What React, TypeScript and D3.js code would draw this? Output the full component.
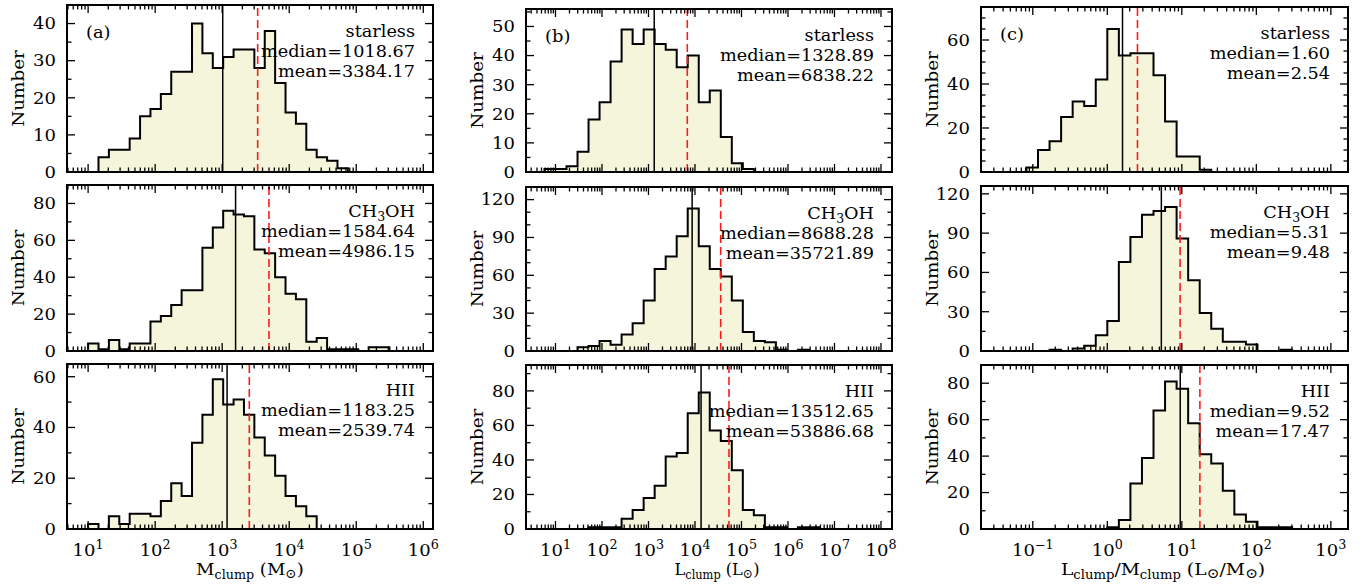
import React from 'react';
import * as d3 from 'd3';

const W = 1367;
const H = 588;

// ---------- layout ----------
const colLeft = [67, 526, 981];
const colRight = [433, 892, 1348];
const colLogDomain: [number, number][] = [[0.685, 6.145], [0.366, 8.237], [-1.695, 3.23]];
const rowTop = [[5, 9, 7], [185, 187, 186], [364, 365, 365]];
const rowBottom = [172, 351, 529];

// ---------- labels ----------
const groupNames = ['starless', 'CH3OH', 'HII'];
const panelLetters = ['(a)', '(b)', '(c)'];
const majorExps = [[1, 2, 3, 4, 5, 6], [1, 2, 3, 4, 5, 6, 7, 8], [-1, 0, 1, 2, 3]];

// ---------- y axes ----------
const yMax = [[45, 56, 75], [90, 130, 126], [65, 95, 90]];
const yMajor = [[10, 10, 20], [20, 30, 30], [20, 20, 20]];
const yMinor = [[5, 5, 5], [10, 10, 15], [10, 10, 10]];

// ---------- statistics ----------
const medians = [[1018.67, 1328.89, 1.6], [1584.64, 8688.28, 5.31], [1183.25, 13512.65, 9.52]];
const means = [[3384.17, 6838.22, 2.54], [4986.15, 35721.89, 9.48], [2539.74, 53886.68, 17.47]];

// ---------- histogram bins (log10 edges) ----------
const massBinStart = 1.0;
const massBinWidth = 0.155;
const lumBinStart = 1.0;
const lumBinWidth = 0.237;
const ratioBinStart = 0.0;
const ratioBinWidth = 0.155;

// ---------- histogram counts ----------
const massStarlessFirst = 1;
const massStarless = [4, 6, 6, 9, 15, 17, 21, 27, 27, 40, 32, 28, 31, 33, 33, 28, 38, 24, 16, 13, 6, 4, 3, 1];
const massCH3OHFirst = 0;
const massCH3OH = [4, 1, 6, 1, 4, 4, 16, 19, 25, 33, 33, 56, 67, 76, 74, 73, 55, 53, 40, 31, 28, 5, 7, 1, 1, 1, 0, 2, 2];
const massHIIFirst = 0;
const massHII = [2, 0, 5, 2, 6, 6, 5, 11, 18, 13, 34, 45, 59, 49, 51, 45, 36, 29, 21, 13, 9, 5];

const lumStarlessFirst = -1;
const lumStarless = [1, 1, 2, 7, 18, 24, 38, 49, 44, 49, 44, 42, 36, 40, 24, 28, 12, 3, 1];
const lumCH3OHFirst = 2;
const lumCH3OH = [3, 4, 8, 5, 13, 22, 40, 65, 75, 91, 113, 83, 65, 59, 40, 15, 8, 7, 1, 0, 1];
const lumHIIFirst = 3;
const lumHII = [1, 1, 1, 6, 11, 18, 25, 42, 44, 67, 79, 57, 51, 34, 11, 8, 1, 1, 0, 1, 1];

const ratioStarlessFirst = -7;
const ratioStarless = [2, 10, 14, 25, 32, 30, 42, 65, 53, 54, 54, 44, 23, 7, 7, 1];
const ratioCH3OHFirst = -5;
const ratioCH3OH = [1, 0, 2, 4, 12, 23, 68, 87, 104, 107, 110, 86, 54, 29, 17, 7, 7, 5, 0, 0, 1];
const ratioHIIFirst = 0;
const ratioHII = [1, 5, 25, 39, 65, 81, 77, 58, 41, 36, 21, 8, 4, 1, 1, 1];

type Hist = { counts: number[]; first: number; start: number; width: number };

const hists: Hist[][] = [
  [
    { counts: massStarless, first: massStarlessFirst, start: massBinStart, width: massBinWidth },
    { counts: lumStarless, first: lumStarlessFirst, start: lumBinStart, width: lumBinWidth },
    { counts: ratioStarless, first: ratioStarlessFirst, start: ratioBinStart, width: ratioBinWidth },
  ],
  [
    { counts: massCH3OH, first: massCH3OHFirst, start: massBinStart, width: massBinWidth },
    { counts: lumCH3OH, first: lumCH3OHFirst, start: lumBinStart, width: lumBinWidth },
    { counts: ratioCH3OH, first: ratioCH3OHFirst, start: ratioBinStart, width: ratioBinWidth },
  ],
  [
    { counts: massHII, first: massHIIFirst, start: massBinStart, width: massBinWidth },
    { counts: lumHII, first: lumHIIFirst, start: lumBinStart, width: lumBinWidth },
    { counts: ratioHII, first: ratioHIIFirst, start: ratioBinStart, width: ratioBinWidth },
  ],
];

const FONT = "'DejaVu Serif', serif";
const FS = 17;
const MAJ = 8;
const MIN = 4.5;

function SText({
  x,
  y,
  sx,
  anchor = 'start',
  rotate = false,
  baseline,
  size = FS,
  children,
}: {
  x: number;
  y: number;
  sx: number;
  anchor?: 'start' | 'middle' | 'end';
  rotate?: boolean;
  baseline?: string;
  size?: number;
  children: React.ReactNode;
}) {
  return (
    <g transform={`translate(${x},${y})${rotate ? ' rotate(-90)' : ''} scale(${sx},1)`}>
      <text
        x={0}
        y={0}
        textAnchor={anchor}
        dominantBaseline={baseline as any}
        fontFamily={FONT}
        fontSize={size}
        fill="#000"
      >
        {children}
      </text>
    </g>
  );
}

type Seg = { t: string; size?: number; off?: number };

function segsToTspans(segs: Seg[]) {
  let prev = 0;
  return segs.map((s, i) => {
    const off = s.off || 0;
    const dy = off - prev;
    prev = off;
    return (
      <tspan key={i} dy={dy} fontSize={s.size || FS}>
        {s.t}
      </tspan>
    );
  });
}

function groupSegs(name: string): Seg[] {
  if (name === 'CH3OH') return [{ t: 'CH' }, { t: '3', size: 12, off: 4 }, { t: 'OH' }];
  return [{ t: name }];
}

function Panel({ row, col }: { row: number; col: number }) {
  const left = colLeft[col];
  const right = colRight[col];
  const top = rowTop[row][col];
  const bottom = rowBottom[row];
  const x = d3.scaleLinear().domain(colLogDomain[col]).range([left, right]);
  const y = d3.scaleLinear().domain([0, yMax[row][col]]).range([bottom, top]);
  const h = hists[row][col];
  const edge = (k: number) => h.start + h.width * k;

  const pts: [number, number][] = [];
  pts.push([edge(h.first), 0]);
  h.counts.forEach((c, i) => {
    pts.push([edge(h.first + i), c]);
    pts.push([edge(h.first + i + 1), c]);
  });
  pts.push([edge(h.first + h.counts.length), 0]);

  const line = d3.line<[number, number]>().x((d) => x(d[0])).y((d) => y(d[1]));
  const area = d3
    .area<[number, number]>()
    .x((d) => x(d[0]))
    .y0(y(0))
    .y1((d) => y(d[1]));

  const [d0, d1] = colLogDomain[col];
  const xTicks: { v: number; major: boolean }[] = [];
  for (let e = Math.floor(d0) - 1; e <= Math.ceil(d1); e++) {
    for (let m = 1; m <= 9; m++) {
      const v = e + Math.log10(m);
      if (v > d0 + 0.005 && v < d1 - 0.005) xTicks.push({ v, major: m === 1 });
    }
  }
  const yTicks: { v: number; major: boolean }[] = [];
  const ymin = yMinor[row][col];
  const ymaj = yMajor[row][col];
  for (let v = ymin; v < yMax[row][col] - 0.01; v += ymin) {
    yTicks.push({ v, major: Math.abs(v / ymaj - Math.round(v / ymaj)) < 1e-6 });
  }
  const yLabels = d3.range(0, yMax[row][col] + 0.001, ymaj);

  const medX = x(Math.log10(medians[row][col]));
  const meanX = x(Math.log10(means[row][col]));
  const rx = right - 18;
  const fmt = (v: number) => v.toFixed(2);
  const clipId = `clip-${row}-${col}`;
  const annSx = 1.04;

  return (
    <g>
      <defs>
        <clipPath id={clipId}>
          <rect x={left} y={top} width={right - left} height={bottom - top} />
        </clipPath>
      </defs>
      <g clipPath={`url(#${clipId})`}>
        <path d={area(pts) || ''} fill="#f5f5dc" stroke="none" />
        <line x1={medX} x2={medX} y1={bottom} y2={top} stroke="#000" strokeWidth={1.5} />
        <path d={line(pts) || ''} fill="none" stroke="#000" strokeWidth={2} strokeLinejoin="miter" />
        <line
          x1={meanX}
          x2={meanX}
          y1={bottom}
          y2={top}
          stroke="#ff1a1a"
          strokeWidth={1.6}
          strokeDasharray="8,4"
        />
      </g>
      <g stroke="#000" strokeWidth={1.3}>
        {xTicks.map((t, i) => (
          <g key={`xt${i}`}>
            <line x1={x(t.v)} x2={x(t.v)} y1={bottom} y2={bottom - (t.major ? MAJ : MIN)} />
            <line x1={x(t.v)} x2={x(t.v)} y1={top} y2={top + (t.major ? MAJ : MIN)} />
          </g>
        ))}
        {yTicks.map((t, i) => (
          <g key={`yt${i}`}>
            <line x1={left} x2={left + (t.major ? MAJ : MIN)} y1={y(t.v)} y2={y(t.v)} />
            <line x1={right} x2={right - (t.major ? MAJ : MIN)} y1={y(t.v)} y2={y(t.v)} />
          </g>
        ))}
      </g>
      <rect x={left} y={top} width={right - left} height={bottom - top} fill="none" stroke="#000" strokeWidth={2} />
      {yLabels.map((v) => (
        <SText key={`yl${v}`} x={left - 11} y={y(v)} sx={1.06} anchor="end" baseline="central">
          {v}
        </SText>
      ))}
      <SText x={left - 49} y={(top + bottom) / 2} sx={1.08} anchor="middle" rotate baseline="central">
        Number
      </SText>
      <SText x={rx} y={top + 32} sx={annSx} anchor="end">
        {segsToTspans(groupSegs(groupNames[row]))}
      </SText>
      <SText x={rx} y={top + 52} sx={annSx} anchor="end">
        {`median=${fmt(medians[row][col])}`}
      </SText>
      <SText x={rx} y={top + 72} sx={annSx} anchor="end">
        {`mean=${fmt(means[row][col])}`}
      </SText>
      {row === 0 && (
        <SText x={left + 19} y={top + 33} sx={1.05}>
          {panelLetters[col]}
        </SText>
      )}
      {row === 2 &&
        majorExps[col].map((e) => (
          <SText key={`xl${e}`} x={x(e)} y={556} sx={1.06} anchor="middle">
            {segsToTspans([{ t: '10' }, { t: e < 0 ? `\u2212${-e}` : `${e}`, size: 12, off: -7 }])}
          </SText>
        ))}
    </g>
  );
}

const SUN = '\u2299';

const xTitleSegs: Seg[][] = [
  [
    { t: 'M' },
    { t: 'clump', size: 12, off: 4 },
    { t: ' (M' },
    { t: SUN, size: 13, off: 3 },
    { t: ')' },
  ],
  [
    { t: 'L' },
    { t: 'clump', size: 12, off: 4 },
    { t: ' (L' },
    { t: SUN, size: 13, off: 3 },
    { t: ')' },
  ],
  [
    { t: 'L' },
    { t: 'clump', size: 12, off: 4 },
    { t: '/M' },
    { t: 'clump', size: 12, off: 4 },
    { t: ' (L' },
    { t: SUN, size: 14, off: 3 },
    { t: '/M' },
    { t: SUN, size: 14, off: 3 },
    { t: ')' },
  ],
];
const xTitleCenter = [250, 717, 1163];
const xTitleSx = [1.06, 0.95, 1.1];

export default function App() {
  const cells: { row: number; col: number }[] = [];
  for (let r = 0; r < 3; r++) for (let c = 0; c < 3; c++) cells.push({ row: r, col: c });
  return (
    <svg
      width={W}
      height={H}
      viewBox={`0 0 ${W} ${H}`}
      style={{ position: 'absolute', left: 0, top: 0, background: '#fff' }}
    >
      <rect x={0} y={0} width={W} height={H} fill="#fff" />
      {cells.map((c) => (
        <Panel key={`${c.row}-${c.col}`} row={c.row} col={c.col} />
      ))}
      {[0, 1, 2].map((c) => (
        <SText key={`xtitle${c}`} x={xTitleCenter[c]} y={575} sx={xTitleSx[c]} anchor="middle">
          {segsToTspans(xTitleSegs[c])}
        </SText>
      ))}
    </svg>
  );
}
